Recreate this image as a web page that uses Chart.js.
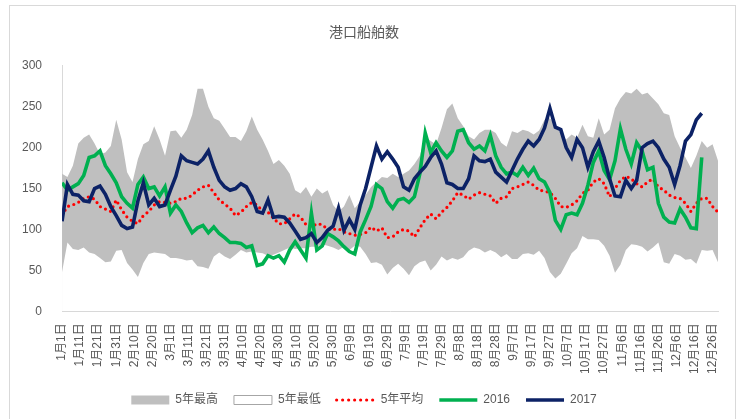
<!DOCTYPE html>
<html>
<head>
<meta charset="utf-8">
<script src="https://cdn.jsdelivr.net/npm/chart.js@4/dist/chart.umd.min.js"></script>
<style>
  html, body { margin: 0; padding: 0; background: #fff; }
  #wrap { position: relative; width: 744px; height: 419px; overflow: hidden; }
  #frame { position: absolute; left: 9px; top: 5px; width: 727px; height: 430px; border: 1px solid #d9d9d9; box-sizing: border-box; }
  #chart { position: absolute; left: 0; top: 0; }
</style>
</head>
<body>
<div id="wrap">
  <div id="frame"></div>
  <canvas id="chart" width="744" height="419"></canvas>
</div>
<script>
// 港口船舶数 - 日次データ（3日ごとに読み取り）
const STEP = 3;

// x軸の目盛り（10日ごと、うるう年）
const tickLabels = ['1月1日', '1月11日', '1月21日', '1月31日', '2月10日', '2月20日', '3月1日', '3月11日',
  '3月21日', '3月31日', '4月10日', '4月20日', '4月30日', '5月10日', '5月20日', '5月30日', '6月9日',
  '6月19日', '6月29日', '7月9日', '7月19日', '7月29日', '8月8日', '8月18日', '8月28日', '9月7日',
  '9月17日', '9月27日', '10月7日', '10月17日', '10月27日', '11月6日', '11月16日', '11月26日',
  '12月6日', '12月16日', '12月26日'];

// 5年最高
const maxHigh = [168, 164, 178, 205, 212, 216, 205, 192, 194, 202, 234, 210, 170, 158, 186, 204,
  208, 226, 210, 190, 220, 221, 212, 222, 240, 272, 272, 250, 236, 233, 223, 213, 213, 208, 220,
  238, 222, 210, 196, 180, 185, 178, 168, 148, 144, 152, 140, 150, 144, 148, 130, 122, 128, 142,
  126, 134, 142, 152, 158, 164, 163, 168, 164, 168, 172, 180, 190, 214, 208, 204, 224, 247, 254,
  236, 226, 214, 210, 218, 222, 222, 218, 206, 201, 220, 218, 222, 220, 216, 221, 234, 236, 228,
  217, 210, 216, 212, 228, 214, 212, 236, 216, 222, 248, 260, 268, 266, 272, 265, 267, 260, 253,
  242, 240, 214, 200, 188, 175, 190, 208, 200, 204, 184];

// 5年最低
const minLow = [48, 84, 76, 75, 78, 72, 70, 65, 60, 61, 74, 75, 59, 51, 42, 59, 70, 72, 71, 70,
  65, 65, 64, 62, 63, 55, 54, 52, 67, 72, 67, 64, 69, 75, 72, 73, 72, 71, 68, 69, 72, 75, 78, 76,
  77, 77, 79, 79, 82, 80, 78, 75, 79, 75, 80, 79, 70, 59, 60, 57, 45, 53, 58, 52, 44, 55, 60, 62,
  50, 57, 67, 62, 65, 63, 66, 74, 78, 76, 72, 75, 72, 66, 70, 64, 64, 70, 71, 69, 74, 65, 48, 40,
  46, 58, 71, 77, 92, 88, 88, 87, 80, 68, 47, 57, 75, 82, 81, 79, 73, 78, 84, 60, 58, 70, 68, 63,
  64, 58, 75, 74, 75, 60];

// 5年平均
const avg5 = [118, 128, 130, 133, 138, 140, 137, 128, 125, 122, 136, 124, 115, 110, 107, 117, 122,
  130, 134, 133, 132, 134, 138, 138, 142, 148, 152, 154, 145, 136, 131, 126, 117, 121, 128, 133,
  130, 122, 121, 114, 107, 107, 113, 119, 115, 106, 103, 107, 106, 100, 100, 101, 97, 95, 93, 94,
  96, 103, 98, 102, 90, 91, 97, 100, 98, 91, 102, 112, 119, 113, 121, 127, 135, 145, 142, 137,
  142, 145, 143, 141, 132, 138, 140, 150, 152, 155, 158, 154, 148, 147, 145, 138, 128, 127, 130,
  135, 144, 148, 158, 162, 156, 140, 150, 160, 165, 162, 156, 152, 158, 162, 152, 148, 142, 139,
  138, 132, 122, 132, 138, 138, 128, 121];

// 2016
const y2016 = [157, 148, 152, 156, 166, 188, 190, 196, 178, 168, 157, 140, 132, 126, 155, 164, 150,
  152, 141, 152, 120, 130, 122, 108, 96, 102, 105, 96, 103, 95, 90, 84, 84, 83, 78, 80, 56, 58, 68,
  65, 68, 60, 75, 85, 75, 65, 120, 75, 80, 95, 91, 86, 79, 73, 70, 97, 112, 128, 155, 150, 134,
  126, 136, 138, 133, 140, 168, 218, 194, 206, 196, 188, 196, 220, 222, 206, 198, 202, 196, 215,
  190, 176, 168, 170, 166, 176, 166, 175, 162, 158, 145, 111, 100, 118, 120, 118, 132, 154, 182,
  196, 172, 161, 184, 223, 198, 180, 206, 196, 173, 176, 132, 115, 109, 108, 125, 115, 102, 101,
  188];

// 2017
const y2017 = [110, 155, 143, 142, 135, 134, 150, 153, 143, 128, 117, 105, 101, 103, 135, 157, 130,
  138, 128, 130, 148, 165, 190, 184, 182, 180, 186, 196, 176, 160, 152, 148, 150, 156, 152, 140,
  122, 120, 136, 115, 116, 115, 108, 98, 88, 90, 95, 84, 90, 99, 104, 126, 99, 112, 100, 130, 150,
  176, 202, 186, 195, 186, 176, 152, 148, 162, 170, 177, 188, 196, 180, 157, 155, 150, 150, 162,
  190, 184, 183, 186, 170, 164, 158, 172, 186, 198, 208, 202, 210, 224, 248, 225, 222, 200, 188,
  210, 200, 176, 195, 208, 188, 162, 141, 140, 160, 150, 160, 200, 205, 208, 200, 186, 176, 155,
  178, 208, 216, 234, 242];

const days = maxHigh.map((_, i) => i * STEP);

const FONT = '"Liberation Sans", "Noto Sans CJK JP", sans-serif';
const TEXT = '#595959';

const colors = {
  high: '#bfbfbf',
  low: '#ffffff',
  avg: '#ff0000',
  y2016: '#00b050',
  y2017: '#0c2266'
};

Chart.defaults.font.family = FONT;
Chart.defaults.color = TEXT;

const ctx = document.getElementById('chart').getContext('2d');
new Chart(ctx, {
  type: 'line',
  data: {
    labels: days,
    datasets: [
      {
        label: '5年最高', data: maxHigh, order: 5,
        fill: 'origin', backgroundColor: colors.high, borderWidth: 0,
        borderColor: colors.high, pointRadius: 0
      },
      {
        label: '5年最低', data: minLow, order: 4,
        fill: 'origin', backgroundColor: colors.low, borderWidth: 0,
        borderColor: colors.low, pointRadius: 0
      },
      {
        label: '5年平均', data: avg5, order: 3,
        borderColor: colors.avg, borderWidth: 3.2, borderDash: [0, 5.5],
        borderCapStyle: 'round', pointRadius: 0, fill: false
      },
      {
        label: '2016', data: y2016, order: 2,
        borderColor: colors.y2016, borderWidth: 3.6, pointRadius: 0, fill: false
      },
      {
        label: '2017', data: y2017, order: 1,
        borderColor: colors.y2017, borderWidth: 3.6, pointRadius: 0, fill: false
      }
    ]
  },
  options: {
    responsive: false,
    animation: false,
    layout: { padding: { left: 10, right: 26, top: 8, bottom: 3 } },
    elements: { line: { tension: 0 } },
    plugins: {
      title: {
        display: true,
        text: '港口船舶数',
        color: TEXT,
        font: { size: 14, weight: 'normal' },
        padding: { top: 17, bottom: 24 }
      },
      tooltip: { enabled: false },
      legend: {
        position: 'bottom',
        labels: {
          usePointStyle: true,
          pointStyleWidth: 38,
          boxHeight: 9,
          padding: 16,
          color: TEXT,
          font: { size: 12 },
          generateLabels: function(chart) {
            return [
              { text: '5年最高', fillStyle: colors.high, strokeStyle: colors.high, lineWidth: 0, pointStyle: 'rect', fontColor: TEXT, datasetIndex: 0 },
              { text: '5年最低', fillStyle: '#ffffff', strokeStyle: '#a6a6a6', lineWidth: 1, pointStyle: 'rect', fontColor: TEXT, datasetIndex: 1 },
              { text: '5年平均', fillStyle: colors.avg, strokeStyle: colors.avg, lineWidth: 3.2, lineDash: [0, 6], lineCap: 'round', pointStyle: 'line', fontColor: TEXT, datasetIndex: 2 },
              { text: '2016', fillStyle: colors.y2016, strokeStyle: colors.y2016, lineWidth: 3.5, pointStyle: 'line', fontColor: TEXT, datasetIndex: 3 },
              { text: '2017', fillStyle: colors.y2017, strokeStyle: colors.y2017, lineWidth: 3.5, pointStyle: 'line', fontColor: TEXT, datasetIndex: 4 }
            ];
          }
        }
      }
    },
    scales: {
      x: {
        type: 'linear',
        min: 0,
        max: 363,
        grid: { display: false },
        border: { color: '#d9d9d9' },
        afterBuildTicks: function(axis) {
          axis.ticks = tickLabels.map((_, i) => ({ value: i * 10 }));
        },
        ticks: {
          autoSkip: false,
          maxRotation: 90,
          minRotation: 90,
          padding: 4,
          color: TEXT,
          font: { size: 12 },
          callback: function(value) {
            return tickLabels[Math.round(value / 10)];
          }
        }
      },
      y: {
        min: 0,
        max: 300,
        grid: { display: false },
        border: { color: '#d9d9d9' },
        ticks: {
          stepSize: 50,
          padding: 12,
          color: TEXT,
          font: { size: 12 }
        }
      }
    }
  }
});
</script>
</body>
</html>
